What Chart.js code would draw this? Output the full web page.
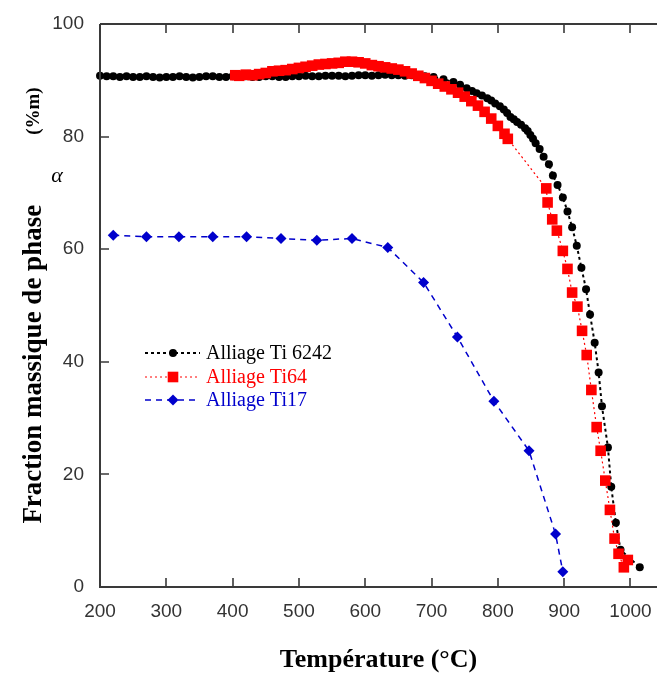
<!DOCTYPE html>
<html><head><meta charset="utf-8">
<script src="https://cdn.jsdelivr.net/npm/chart.js@4/dist/chart.umd.min.js"></script>
<style>html,body{margin:0;padding:0;background:#fff;overflow:hidden}canvas{display:block}</style>
</head><body>
<canvas id="c" width="657" height="684"></canvas>
<script>
const xTicks = [200, 300, 400, 500, 600, 700, 800, 900, 1000];
const yTicks = [0, 20, 40, 60, 80, 100];
const seriesNames = ['Alliage Ti 6242', 'Alliage Ti64', 'Alliage Ti17'];
const xTitle = 'Température (°C)';
const yTitleMain = 'Fraction massique de phase';
const yTitleUnit = '(%m)';
const alphaSymbol = 'α';

const ti6242Temp = [200,210,220,230,240,250,260,270,280,290,300,310,320,330,340,350,360,370,380,390,
  400,410,420,430,440,450,460,470,480,490,500,510,520,530,540,550,560,570,580,590,
  600,610,620,630,640,650,660,670,680,690,
  703,718,733,743,753,761,768,776,784,790,796,803,809,814,819,824,829,835,841,845,849,853,857,863,869,877,
  883,890,898,905,912,919,926,933,939,946,952,957,966,971,978,985,1014];
const ti6242Alpha = [90.8,90.7,90.7,90.6,90.7,90.6,90.6,90.7,90.6,90.5,90.6,90.6,90.7,90.6,90.5,90.6,90.7,90.7,90.6,90.6,
  90.7,90.6,90.7,90.6,90.6,90.7,90.7,90.6,90.6,90.7,90.7,90.8,90.7,90.7,90.8,90.8,90.8,90.7,90.8,90.9,
  90.9,90.8,90.9,91.0,90.9,90.9,90.8,90.9,90.8,90.7,
  90.6,90.2,89.7,89.2,88.6,88.1,87.7,87.3,86.8,86.4,85.9,85.4,84.8,84.2,83.5,83.1,82.6,82.1,81.5,81.0,80.3,79.6,78.8,77.8,76.4,75.1,
  73.1,71.4,69.2,66.7,63.9,60.6,56.7,52.9,48.4,43.4,38.1,32.1,24.8,17.8,11.4,6.6,3.5];

const ti64Temp = [404,410,420,430,440,450,460,470,480,490,500,510,520,530,540,550,560,570,580,590,
  600,610,620,630,640,650,660,670,680,690,700,710,720,730,740,750,760,770,780,790,800,810,815,
  873,875,882,889,898,905,912,920,927,934,941,949,955,962,969,976,982,990,996];
const ti64Alpha = [90.9,90.8,91.0,90.9,91.1,91.3,91.6,91.7,91.8,92.0,92.2,92.4,92.6,92.8,92.9,93.0,93.1,93.3,93.3,93.2,
  93.0,92.7,92.5,92.3,92.1,91.9,91.6,91.2,90.8,90.4,89.9,89.4,88.9,88.4,87.8,87.1,86.3,85.5,84.4,83.2,81.9,80.5,79.6,
  70.8,68.3,65.3,63.3,59.7,56.5,52.3,49.8,45.5,41.2,35.0,28.4,24.2,18.9,13.7,8.6,5.9,3.5,4.8];

const ti17Temp = [220, 270, 319, 370, 421, 473, 527, 580, 634, 688, 739, 794, 847, 887, 898];
const ti17Alpha = [62.5, 62.2, 62.2, 62.2, 62.2, 61.9, 61.6, 61.9, 60.3, 54.1, 44.4, 33.0, 24.2, 9.4, 2.7];

const toPts = (xs, ys) => xs.map((x, i) => ({ x: x, y: ys[i] }));
const axisColor = '#3a3a3a';

function drawMarker(ctx, style, x, y, r, color) {
  ctx.fillStyle = color;
  ctx.beginPath();
  if (style === 'circle') {
    ctx.arc(x, y, r, 0, Math.PI * 2);
  } else if (style === 'rect') {
    const s = r * Math.SQRT1_2;
    ctx.rect(x - s, y - s, 2 * s, 2 * s);
  } else {
    ctx.moveTo(x, y - r); ctx.lineTo(x + r, y); ctx.lineTo(x, y + r); ctx.lineTo(x - r, y); ctx.closePath();
  }
  ctx.fill();
}

const framePlugin = {
  id: 'frame',
  afterDraw(chart) {
    const ctx = chart.ctx, a = chart.chartArea;
    const xs = chart.scales.x, ys = chart.scales.y;
    ctx.save();
    ctx.strokeStyle = axisColor;
    ctx.lineWidth = 2;
    ctx.beginPath();
    ctx.moveTo(a.left, a.top); ctx.lineTo(a.right, a.top);
    ctx.moveTo(a.left, a.top); ctx.lineTo(a.left, a.bottom);
    ctx.lineTo(a.right, a.bottom);
    ctx.stroke();
    ctx.lineWidth = 1.6;
    ctx.beginPath();
    xTicks.forEach(v => {
      const px = Math.round(xs.getPixelForValue(v));
      ctx.moveTo(px, a.bottom); ctx.lineTo(px, a.bottom - 9);
      ctx.moveTo(px, a.top); ctx.lineTo(px, a.top + 9);
    });
    yTicks.forEach(v => {
      const py = Math.round(ys.getPixelForValue(v));
      ctx.moveTo(a.left, py); ctx.lineTo(a.left + 9, py);
    });
    ctx.stroke();

    // legend
    const x0 = a.left + 45, x1 = a.left + 100, xm = a.left + 73, xt = a.left + 106;
    const rows = [a.top + 329, a.top + 353, a.top + 376];
    const legR = [4, 7.5, 5.5];
    chart.data.datasets.forEach((ds, i) => {
      const y = rows[i];
      ctx.strokeStyle = ds.borderColor;
      ctx.lineWidth = ds.borderWidth;
      ctx.setLineDash(ds.borderDash);
      ctx.beginPath(); ctx.moveTo(x0, y); ctx.lineTo(x1, y); ctx.stroke();
      ctx.setLineDash([]);
      drawMarker(ctx, ds.pointStyle, xm, y, legR[i], ds.pointBackgroundColor);
      ctx.fillStyle = ds.borderColor;
      ctx.font = '20px "Liberation Serif"';
      ctx.textBaseline = 'middle';
      ctx.textAlign = 'left';
      ctx.fillText(ds.label, xt, y + 1);
    });

    // y title
    ctx.fillStyle = '#000';
    ctx.textBaseline = 'middle';
    ctx.save();
    ctx.translate(34, (a.top + a.bottom) / 2);
    ctx.rotate(-Math.PI / 2);
    ctx.font = 'bold 27px "Liberation Serif"';
    const w1 = ctx.measureText(yTitleMain).width;
    ctx.font = 'bold 19px "Liberation Serif"';
    const w2 = ctx.measureText(yTitleUnit).width;
    const gap = 70;
    const total = w1 + gap + w2;
    ctx.textAlign = 'left';
    ctx.font = 'bold 27px "Liberation Serif"';
    ctx.fillText(yTitleMain, -total / 2, 0);
    ctx.font = 'bold 19px "Liberation Serif"';
    ctx.fillText(yTitleUnit, -total / 2 + w1 + gap, 0);
    ctx.restore();
    ctx.font = 'italic 22px "Liberation Serif"';
    ctx.textAlign = 'center';
    ctx.fillText(alphaSymbol, a.left - 43, ys.getPixelForValue(73));
    ctx.restore();
  }
};

new Chart(document.getElementById('c'), {
  type: 'scatter',
  data: {
    datasets: [
      { label: seriesNames[0], data: toPts(ti6242Temp, ti6242Alpha), showLine: true,
        borderColor: '#000000', borderWidth: 2, borderDash: [3, 3],
        pointStyle: 'circle', pointRadius: 4, pointBackgroundColor: '#000000', pointBorderWidth: 0,
        order: 1, clip: false },
      { label: seriesNames[1], data: toPts(ti64Temp, ti64Alpha), showLine: true,
        borderColor: '#ff0000', borderWidth: 1.2, borderDash: [2, 3],
        pointStyle: 'rect', pointRadius: 7.5, pointBackgroundColor: '#ff0000', pointBorderWidth: 0,
        order: 0, clip: false },
      { label: seriesNames[2], data: toPts(ti17Temp, ti17Alpha), showLine: true,
        borderColor: '#0000cc', borderWidth: 1.5, borderDash: [6, 5],
        pointStyle: 'rectRot', pointRadius: 5.5, pointBackgroundColor: '#0000cc', pointBorderWidth: 0,
        order: 2, clip: false }
    ]
  },
  options: {
    responsive: false,
    animation: false,
    devicePixelRatio: 1,
    layout: { autoPadding: false, padding: { top: 24, right: 0, bottom: 0, left: 0 } },
    plugins: { legend: { display: false }, tooltip: { enabled: false } },
    scales: {
      x: {
        type: 'linear', min: 200, max: 1040,
        afterBuildTicks: s => { s.ticks = xTicks.map(v => ({ value: v })); },
        afterFit: s => { s.height = 97; s.paddingLeft = 0; s.paddingRight = 0; },
        grid: { display: false, drawTicks: false },
        border: { display: false },
        ticks: { padding: 13, maxRotation: 0, autoSkip: false, color: '#333',
          callback: v => String(v),
          font: { family: '"Liberation Sans"', size: 19 } },
        title: { display: true, text: xTitle, color: '#000',
          font: { family: '"Liberation Serif"', size: 26, weight: 'bold', lineHeight: 1.2 },
          padding: { top: 0, bottom: 8 } }
      },
      y: {
        type: 'linear', min: 0, max: 100,
        afterBuildTicks: s => { s.ticks = yTicks.map(v => ({ value: v })); },
        afterFit: s => { s.width = 100; s.paddingTop = 0; s.paddingBottom = 0; },
        grid: { display: false, drawTicks: false },
        border: { display: false },
        ticks: { padding: 16, color: '#333', callback: v => String(v),
          font: { family: '"Liberation Sans"', size: 19 } }
      }
    }
  },
  plugins: [framePlugin]
});
</script>
</body></html>
